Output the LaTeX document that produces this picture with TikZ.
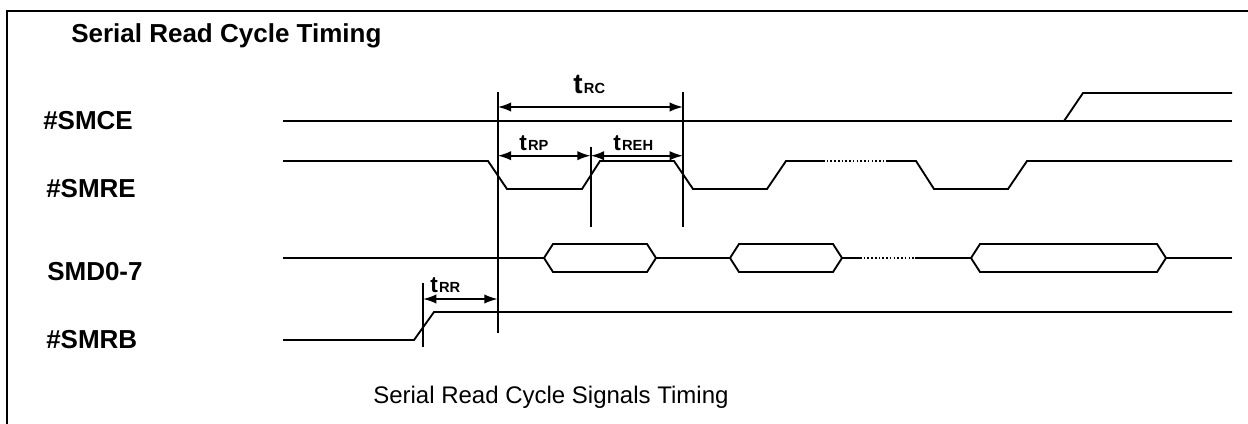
\documentclass[tikz,border=0pt]{standalone}
\usepackage{fontspec}
\setmainfont{Liberation Sans}
\usetikzlibrary{arrows.meta}
\newcommand{\tpar}[2]{\bfseries{\fontsize{#1}{#1}\selectfont t}\kern1pt{\fontsize{11}{11}\selectfont #2}}

\begin{document}
\begin{tikzpicture}[x=.75pt,y=-.75pt,>={Latex[length=10pt,width=7pt]},
    sig/.style={line width=1.4pt},
    dots/.style={line width=.9pt,dash pattern=on 1.2pt off 1.6pt},
    marker/.style={line width=1.4pt},
    lab/.style={inner sep=0pt,anchor=base west,font=\fontsize{19.5}{20}\selectfont\bfseries},
    tlab/.style={inner sep=0pt,anchor=base west}]
  \useasboundingbox (0,0) rectangle (1248,424);
  % frame
  \draw[line width=1.5pt] (1248,11.5) -- (7,11.5) -- (7,424);
  % texts
  \node[lab] (title) at (71,43) {Serial Read Cycle Timing};
  \node[lab] (smce) at (43,130) {\#SMCE};
  \node[lab] (smre) at (46,197) {\#SMRE};
  \node[lab] (smd) at (47,280) {SMD0-7};
  \node[lab] (smrb) at (46,348) {\#SMRB};
  \node[tlab,font=\fontsize{18}{18}\selectfont] (caption) at (373,403) {Serial Read Cycle Signals Timing};
  % waveforms
  \draw[sig] (283,121) -- (1232,121);
  \draw[sig] (1064,121) -- (1083,93) -- (1232,93);
  \draw[sig] (283,161) -- (488,161) -- (507,189) -- (582,189) -- (600,161) -- (674,161)
             -- (693,189) -- (767,189) -- (786,161) -- (823,161);
  \draw[dots] (823,161) -- (887,161);
  \draw[sig] (887,161) -- (916,161) -- (934,189) -- (1008,189) -- (1027,161) -- (1232,161);
  \draw[sig] (283,258) -- (544,258) (656,258) -- (730,258) (842,258) -- (860,258)
             (915,258) -- (971,258) (1166,258) -- (1232,258);
  \draw[dots] (860,258) -- (915,258);
  \foreach \a/\b in {544/656,730/842,971/1166}
    \draw[sig] (\a,258) -- (\a+9,244) -- (\b-9,244) -- (\b,258) -- (\b-9,272) -- (\a+9,272) -- cycle;
  \draw[sig] (283,340) -- (414,340) -- (434,312) -- (1232,312);
  % markers
  \coordinate (m1t) at (497.7,92);  \coordinate (m1b) at (497.7,333);
  \coordinate (m2t) at (590.7,147); \coordinate (m2b) at (590.7,227);
  \coordinate (m3t) at (683,92);    \coordinate (m3b) at (683,227);
  \coordinate (m4t) at (423,283);   \coordinate (m4b) at (423,347);
  \foreach \m in {1,2,3,4} \draw[marker] (m\m t) -- (m\m b);
  % dimension arrows
  \draw[<->,marker] (m1t |- 0,107) -- (m3t |- 0,107);
  \draw[<->,marker] (m1t |- 0,155.7) -- (m2t |- 0,155.7);
  \draw[<->,marker] (m2t |- 0,155.7) -- (m3t |- 0,155.7);
  \draw[<->,marker] (m4t |- 0,299) -- (m1t |- 0,299);
  \node[tlab] (trc) at (573,94) {\tpar{21}{RC}};
  \node[tlab] (trp) at (519,151) {\tpar{17}{RP}};
  \node[tlab] (treh) at (613,151) {\tpar{17}{REH}};
  \node[tlab] (trr) at (430,292) {\tpar{17}{RR}};
\end{tikzpicture}
\end{document}
